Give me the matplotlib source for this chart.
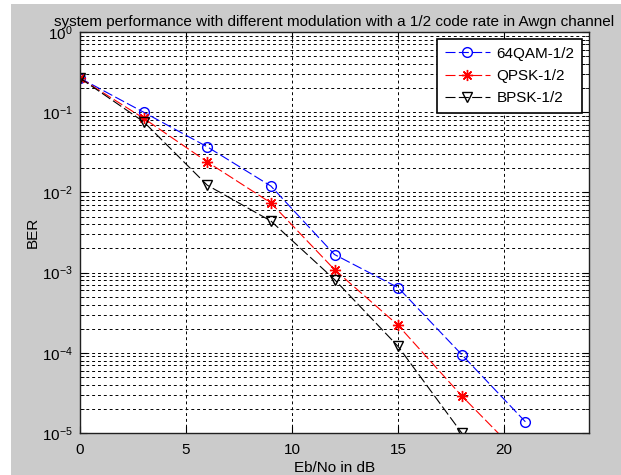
import numpy as np
import matplotlib
matplotlib.use('Agg')
import matplotlib.pyplot as plt
from matplotlib.patches import Rectangle
from matplotlib.ticker import LogLocator, NullFormatter

plt.rcParams['font.family'] = ['Liberation Sans', 'DejaVu Sans']

# Eb/No points (dB)
ebno = [0, 3, 6, 9, 12, 15, 18, 21]
# BER values
ber_64qam = [0.266, 0.100, 0.037, 0.012, 1.68e-3, 6.5e-4, 9.5e-5, 1.38e-5]
ber_qpsk = [0.266, 0.084, 0.024, 0.0074, 1.09e-3, 2.2e-4, 2.9e-5, 4.5e-6]
ber_bpsk = [0.266, 0.076, 0.0123, 0.0044, 8.2e-4, 1.2e-4, 1.0e-5, 1.1e-6]
labels = ['64QAM-1/2', 'QPSK-1/2', 'BPSK-1/2']

fig = plt.figure(figsize=(6.21, 4.75), dpi=100, facecolor='white')
# gray matlab-style window background
fig.patches.append(Rectangle((11 / 621, 0), 1, (475 - 4) / 475, transform=fig.transFigure,
                             facecolor='#cbcbcb', edgecolor='none', zorder=-1))
ax = fig.add_axes([80 / 621, 1 - 433 / 475, (589 - 80) / 621, (433 - 32) / 475])
ax.set_facecolor('white')

dash = (0, (9, 3))
ax.semilogy(ebno, ber_64qam, color='blue', ls=dash, lw=0.8, marker='o',
            ms=7, mfc='none', mec='blue', mew=1, label=labels[0])
ax.semilogy(ebno, ber_qpsk, color='red', ls=dash, lw=0.8, marker=(8, 2, 0),
            ms=8, mfc='red', mec='red', mew=1, label=labels[1])
ax.semilogy(ebno, ber_bpsk, color='black', ls=dash, lw=0.8, marker='v',
            ms=7, mfc='none', mec='black', mew=1, label=labels[2])

ax.set_xlim(0, 24)
ax.set_ylim(1e-5, 1)
ax.set_xticks([0, 5, 10, 15, 20])
ax.yaxis.set_major_locator(LogLocator(base=10, numticks=10))
ax.yaxis.set_minor_locator(LogLocator(base=10, subs=np.arange(2, 10), numticks=20))
ax.yaxis.set_minor_formatter(NullFormatter())

ax.grid(True, which='major', axis='both', color='black', ls=(0, (3, 3)), lw=0.7)
ax.grid(True, which='minor', axis='y', color='black', ls=(0, (3, 3)), lw=0.7)

ax.tick_params(which='both', direction='in', top=True, right=True, labelsize=11,
               colors='black')
ax.tick_params(which='major', length=5)
ax.tick_params(which='minor', length=3)
ax.tick_params(axis='x', pad=7)
ax.tick_params(axis='y', pad=5)
for s in ax.spines.values():
    s.set_linewidth(1.0)
    s.set_color('#202020')

ax.set_title('system performance with different modulation with a 1/2 code rate in Awgn channel',
             fontsize=11, pad=4)
ax.set_xlabel('Eb/No in dB', fontsize=11, labelpad=3)
ax.set_ylabel('BER', fontsize=11, labelpad=2)

leg = ax.legend(loc='upper right', fontsize=11, handlelength=3.0, handletextpad=0.4,
                borderaxespad=0.45, borderpad=0.5, fancybox=False, framealpha=1,
                edgecolor='black', labelspacing=0.55)
leg.get_frame().set_linewidth(1.2)

fig.savefig('out.png', dpi=100)
